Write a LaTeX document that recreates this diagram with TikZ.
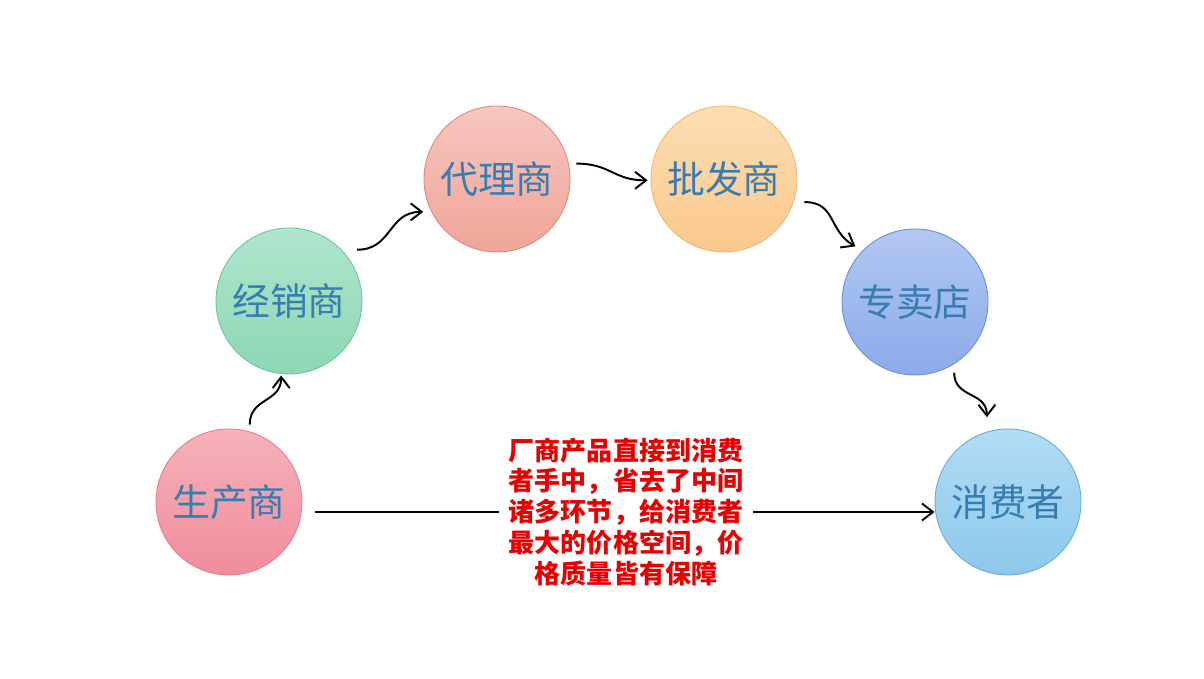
\documentclass[tikz,border=0pt]{standalone}
\usepackage{fontspec}
\setmainfont{Noto Sans CJK SC}
\usetikzlibrary{arrows.meta}
\usetikzlibrary{calc}
\definecolor{labelblue}{RGB}{55,125,178}
\definecolor{notered}{RGB}{232,0,0}

\begin{document}
\begin{tikzpicture}[
    stage/.style={circle, minimum size=2.92cm, inner sep=0pt, line width=0.5pt,
                  text=labelblue, font=\fontsize{21.5}{24}\selectfont},
    flow/.style={-{Straight Barb[length=2.2mm,width=3.4mm]}, line width=1.1pt},
    note/.style={align=center, text=notered, inner sep=0.2cm,
                 font=\bfseries\fontsize{14.8}{17.6}\selectfont}
]
\useasboundingbox (0,0) rectangle (24.08,13.58);
\node[stage, top color={rgb,255:red,246;green,178;blue,186}, bottom color={rgb,255:red,240;green,140;blue,155}, draw={rgb,255:red,226;green,125;blue,140}] (sc) at (4.58,3.54) {生产商};
\node[stage, top color={rgb,255:red,175;green,230;blue,205}, bottom color={rgb,255:red,140;green,215;blue,180}, draw={rgb,255:red,110;green,195;blue,155}] (jx) at (5.78,7.56) {经销商};
\node[stage, top color={rgb,255:red,246;green,198;blue,192}, bottom color={rgb,255:red,240;green,165;blue,152}, draw={rgb,255:red,226;green,135;blue,122}] (dl) at (9.94,10.00) {代理商};
\node[stage, top color={rgb,255:red,253;green,222;blue,178}, bottom color={rgb,255:red,250;green,200;blue,140}, draw={rgb,255:red,240;green,182;blue,112}] (pf) at (14.48,10.00) {批发商};
\node[stage, top color={rgb,255:red,178;green,200;blue,242}, bottom color={rgb,255:red,140;green,170;blue,235}, draw={rgb,255:red,105;green,142;blue,212}] (zm) at (18.30,7.54) {专卖店};
\node[stage, top color={rgb,255:red,178;green,220;blue,244}, bottom color={rgb,255:red,140;green,200;blue,236}, draw={rgb,255:red,105;green,170;blue,215}] (xf) at (20.16,3.54) {消费者};
\node[note] (txt) at (12.52,3.34) {厂商产品直接到消费\\者手中，省去了中间\\诸多环节，给消费者\\最大的价格空间，价\\格质量皆有保障};

% winding links
\draw[flow] ($(sc)!1.09!(sc.75)$) to[out=90, in=-90, looseness=1.2] ($(jx)!1.02!(jx.264)$);
\draw[flow] ($(jx)!1.16!(jx.37)$) to[out=0, in=180, looseness=1.2] ($(dl)!1.10!(dl.204)$);
\draw[flow] ($(dl)!1.10!(dl.11)$) to[out=0, in=180, looseness=1.2] ($(pf)!1.04!(pf.181)$);
\draw[flow] ($(pf)!1.14!(pf.344)$) to[out=0, in=150, looseness=1.2] ($(zm)!1.11!(zm.137)$);
\draw[flow] ($(zm)!1.10!(zm.299)$) to[out=-90, in=90, looseness=1.2] ($(xf)!1.19!(xf.104)$);
% direct link
\draw[line width=1.1pt] ($(sc.east |- txt.west)+(0.26,0)$) -- (txt.west);
\draw[flow] (txt.east) -- (txt.east -| xf.west);
\end{tikzpicture}
\end{document}
